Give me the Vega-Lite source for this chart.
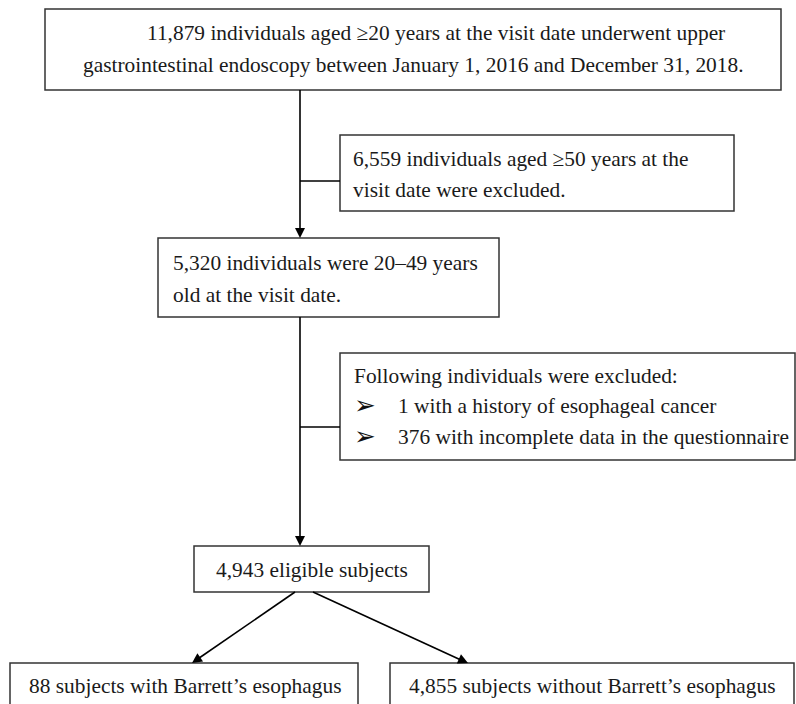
{
  "$schema": "https://vega.github.io/schema/vega-lite/v6.json",
  "width": 796,
  "height": 704,
  "autosize": "none",
  "padding": 0,
  "background": "white",
  "config": {"view": {"stroke": null}},
  "datasets": {
    "boxes": [
      {"id": "b1", "x1": 45, "y1": 9, "x2": 781, "y2": 90},
      {"id": "b2", "x1": 340, "y1": 135, "x2": 734, "y2": 211},
      {"id": "b3", "x1": 158, "y1": 238, "x2": 499, "y2": 317},
      {"id": "b4", "x1": 340, "y1": 353, "x2": 795, "y2": 460},
      {"id": "b5", "x1": 194, "y1": 546, "x2": 429, "y2": 592},
      {"id": "b6", "x1": 10, "y1": 663, "x2": 358, "y2": 716},
      {"id": "b7", "x1": 390, "y1": 663, "x2": 794, "y2": 716}
    ],
    "lines": [
      {"x1": 300, "y1": 90, "x2": 300, "y2": 232},
      {"x1": 300, "y1": 181, "x2": 340, "y2": 181},
      {"x1": 300, "y1": 317, "x2": 300, "y2": 540},
      {"x1": 300, "y1": 427, "x2": 340, "y2": 427},
      {"x1": 295, "y1": 592, "x2": 197, "y2": 659.5},
      {"x1": 313, "y1": 592, "x2": 462, "y2": 660.5}
    ],
    "arrows": [
      {"x": 300, "y": 238, "angle": 0},
      {"x": 300, "y": 546, "angle": 0},
      {"x": 192, "y": 663, "angle": 55.4},
      {"x": 468, "y": 663, "angle": 294.6}
    ],
    "labels": [
      {"x": 147, "y": 40, "text": "11,879 individuals aged ≥20 years at the visit date underwent upper"},
      {"x": 83, "y": 72, "text": "gastrointestinal endoscopy between January 1, 2016 and December 31, 2018."},
      {"x": 353, "y": 166, "text": "6,559 individuals aged ≥50 years at the"},
      {"x": 353, "y": 197, "text": "visit date were excluded."},
      {"x": 173, "y": 270, "text": "5,320 individuals were 20–49 years"},
      {"x": 173, "y": 302, "text": "old at the visit date."},
      {"x": 354, "y": 383, "text": "Following individuals were excluded:"},
      {"x": 398, "y": 413, "text": "1 with a history of esophageal cancer"},
      {"x": 398, "y": 444, "text": "376 with incomplete data in the questionnaire"},
      {"x": 216, "y": 577, "text": "4,943 eligible subjects"},
      {"x": 29, "y": 693, "text": "88 subjects with Barrett’s esophagus"},
      {"x": 409, "y": 693, "text": "4,855 subjects without Barrett’s esophagus"}
    ],
    "bullets": [
      {"x": 354, "y": 414, "text": "➢"},
      {"x": 354, "y": 445, "text": "➢"}
    ]
  },
  "layer": [
    {
      "data": {"name": "boxes"},
      "mark": {"type": "rect", "fill": "white", "stroke": "#333333", "strokeWidth": 1.5, "clip": true},
      "encoding": {
        "x": {"field": "x1", "type": "quantitative", "scale": {"domain": [0, 796], "nice": false, "zero": false}, "axis": null},
        "x2": {"field": "x2"},
        "y": {"field": "y1", "type": "quantitative", "scale": {"domain": [0, 704], "reverse": true, "nice": false, "zero": false}, "axis": null},
        "y2": {"field": "y2"}
      }
    },
    {
      "data": {"name": "lines"},
      "mark": {"type": "rule", "stroke": "#000000", "strokeWidth": 1.6},
      "encoding": {
        "x": {"field": "x1", "type": "quantitative", "scale": {"domain": [0, 796], "nice": false, "zero": false}, "axis": null},
        "x2": {"field": "x2"},
        "y": {"field": "y1", "type": "quantitative", "scale": {"domain": [0, 704], "reverse": true, "nice": false, "zero": false}, "axis": null},
        "y2": {"field": "y2"}
      }
    },
    {
      "data": {"name": "arrows"},
      "mark": {"type": "point", "shape": "M-0.5,-1L0.5,-1L0,0Z", "filled": true, "fill": "#000000", "size": 400, "opacity": 1, "strokeWidth": 0},
      "encoding": {
        "x": {"field": "x", "type": "quantitative", "scale": {"domain": [0, 796], "nice": false, "zero": false}, "axis": null},
        "y": {"field": "y", "type": "quantitative", "scale": {"domain": [0, 704], "reverse": true, "nice": false, "zero": false}, "axis": null},
        "angle": {"field": "angle", "type": "quantitative", "scale": null}
      }
    },
    {
      "data": {"name": "labels"},
      "mark": {"type": "text", "font": "Liberation Serif", "fontSize": 21.4, "align": "left", "baseline": "alphabetic", "color": "#1a1a1a"},
      "encoding": {
        "x": {"field": "x", "type": "quantitative", "scale": {"domain": [0, 796], "nice": false, "zero": false}, "axis": null},
        "y": {"field": "y", "type": "quantitative", "scale": {"domain": [0, 704], "reverse": true, "nice": false, "zero": false}, "axis": null},
        "text": {"field": "text"}
      }
    },
    {
      "data": {"name": "bullets"},
      "mark": {"type": "text", "font": "DejaVu Sans", "fontSize": 26, "align": "left", "baseline": "alphabetic", "color": "#111111"},
      "encoding": {
        "x": {"field": "x", "type": "quantitative", "scale": {"domain": [0, 796], "nice": false, "zero": false}, "axis": null},
        "y": {"field": "y", "type": "quantitative", "scale": {"domain": [0, 704], "reverse": true, "nice": false, "zero": false}, "axis": null},
        "text": {"field": "text"}
      }
    }
  ]
}
